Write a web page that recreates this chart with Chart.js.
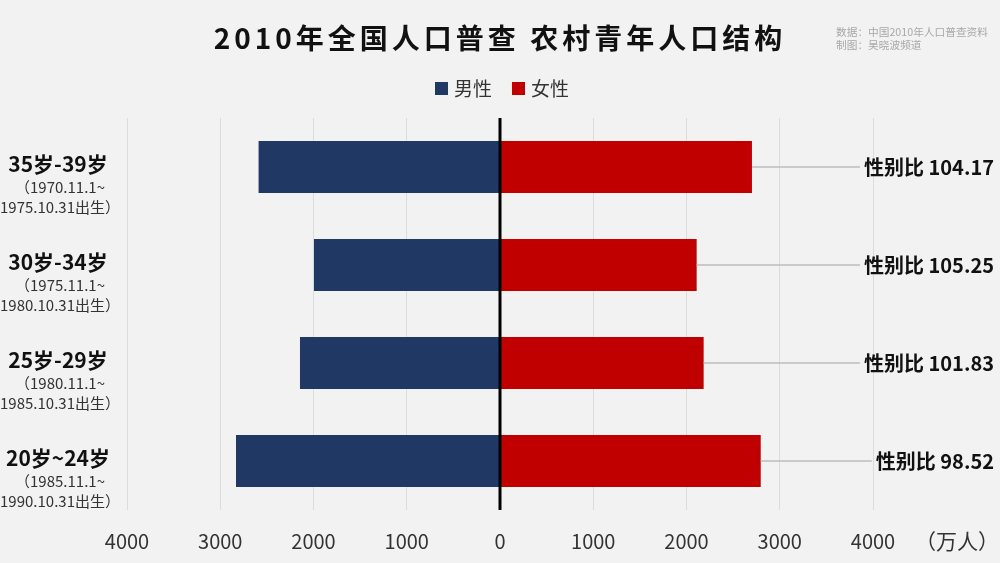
<!DOCTYPE html>
<html>
<head>
<meta charset="utf-8">
<script src="https://cdn.jsdelivr.net/npm/chart.js@4"></script>
<style>
  html, body { margin: 0; padding: 0; background: #f2f2f2; }
  #wrap { width: 1000px; height: 563px; position: relative; }
</style>
</head>
<body>
<div id="wrap"><canvas id="chart"></canvas></div>
<script>
const TITLE = '2010年全国人口普查 农村青年人口结构';
const SOURCE = ['数据：中国2010年人口普查资料', '制图：吴晓波频道'];
const AGE_GROUPS = ['35岁-39岁', '30岁-34岁', '25岁-29岁', '20岁~24岁'];
const BIRTH_RANGES = [
  ['（1970.11.1~', '1975.10.31出生）'],
  ['（1975.11.1~', '1980.10.31出生）'],
  ['（1980.11.1~', '1985.10.31出生）'],
  ['（1985.11.1~', '1990.10.31出生）'],
];
const MALE = [2589, 1995, 2145, 2831];
const FEMALE = [2702, 2109, 2184, 2796];
const SEX_RATIO = ['104.17', '105.25', '101.83', '98.52'];
const UNIT = '（万人）';

const FONT = '"Noto Sans CJK SC", "Noto Sans", sans-serif';
const NAVY = '#1f3864';
const RED = '#c00000';

const decor = {
  id: 'decor',
  beforeDraw(chart) {
    const ctx = chart.ctx;
    ctx.save();
    ctx.fillStyle = '#f2f2f2';
    ctx.fillRect(0, 0, chart.width, chart.height);
    ctx.restore();
  },
  afterDatasetsDraw(chart) {
    const ctx = chart.ctx;
    const area = chart.chartArea;
    const female = chart.getDatasetMeta(1).data;
    const x0 = chart.scales.x.getPixelForValue(0);
    ctx.save();
    // zero line on top of the bars
    ctx.strokeStyle = '#000';
    ctx.lineWidth = 3;
    ctx.beginPath();
    ctx.moveTo(x0, area.top);
    ctx.lineTo(x0, area.bottom);
    ctx.stroke();
    // leader lines + sex ratio labels
    ctx.font = 'bold 20px ' + FONT;
    ctx.textAlign = 'right';
    ctx.textBaseline = 'middle';
    female.forEach((bar, i) => {
      const text = '性别比 ' + SEX_RATIO[i];
      const w = ctx.measureText(text).width;
      ctx.strokeStyle = '#bdbdbd';
      ctx.lineWidth = 1.5;
      ctx.beginPath();
      ctx.moveTo(bar.x, bar.y);
      ctx.lineTo(994 - w - 4, bar.y);
      ctx.stroke();
      ctx.fillStyle = '#111';
      ctx.fillText(text, 994, bar.y);
    });
    // category labels on the left
    ctx.textAlign = 'center';
    female.forEach((bar, i) => {
      ctx.fillStyle = '#111';
      ctx.font = 'bold 21px ' + FONT;
      ctx.fillText(AGE_GROUPS[i], 58, bar.y - 3);
      ctx.fillStyle = '#333';
      ctx.font = '15px ' + FONT;
      ctx.fillText(BIRTH_RANGES[i][0], 60, bar.y + 20);
      ctx.fillText(BIRTH_RANGES[i][1], 60, bar.y + 40);
    });
    // title
    ctx.fillStyle = '#111';
    ctx.font = 'bold 28px ' + FONT;
    ctx.letterSpacing = '4px';
    ctx.fillText(TITLE, 500, 38);
    ctx.letterSpacing = '0px';
    // source
    ctx.textAlign = 'left';
    ctx.fillStyle = '#a8a8a8';
    ctx.font = '10.7px ' + FONT;
    ctx.fillText(SOURCE[0], 836, 32);
    ctx.fillText(SOURCE[1], 836, 45);
    // legend
    let x = 435;
    chart.data.datasets.forEach(ds => {
      ctx.fillStyle = ds.backgroundColor;
      ctx.fillRect(x, 82, 13, 13);
      ctx.fillStyle = '#333';
      ctx.font = '19px ' + FONT;
      ctx.fillText(ds.label, x + 19, 89);
      x += 77;
    });
    // unit
    ctx.fillStyle = '#333';
    ctx.font = '21px ' + FONT;
    ctx.textAlign = 'center';
    ctx.fillText(UNIT, 957, 541);
    ctx.restore();
  }
};

new Chart(document.getElementById('chart'), {
  type: 'bar',
  data: {
    labels: AGE_GROUPS,
    datasets: [
      { label: '男性', data: MALE.map(v => -v), backgroundColor: NAVY },
      { label: '女性', data: FEMALE, backgroundColor: RED },
    ],
  },
  options: {
    indexAxis: 'y',
    responsive: true,
    maintainAspectRatio: false,
    animation: false,
    layout: { padding: { left: 127, right: 127, top: 118, bottom: 0 } },
    datasets: { bar: { categoryPercentage: 1, barPercentage: 0.53 } },
    scales: {
      x: {
        stacked: true,
        min: -4000,
        max: 4000,
        afterFit: s => { s.height = 53; },
        border: { display: false },
        grid: {
          drawTicks: false,
          color: c => c.tick && c.tick.value === 0 ? 'rgba(0,0,0,0)' : '#dcdcdc',
          lineWidth: 1,
        },
        ticks: {
          stepSize: 1000,
          padding: 19,
          color: '#333',
          font: { family: FONT, size: 20 },
          callback: v => Math.abs(v),
        },
      },
      y: {
        stacked: true,
        display: false,
      },
    },
    plugins: {
      legend: { display: false },
      tooltip: { enabled: false },
    },
  },
  plugins: [decor],
});
</script>
</body>
</html>
